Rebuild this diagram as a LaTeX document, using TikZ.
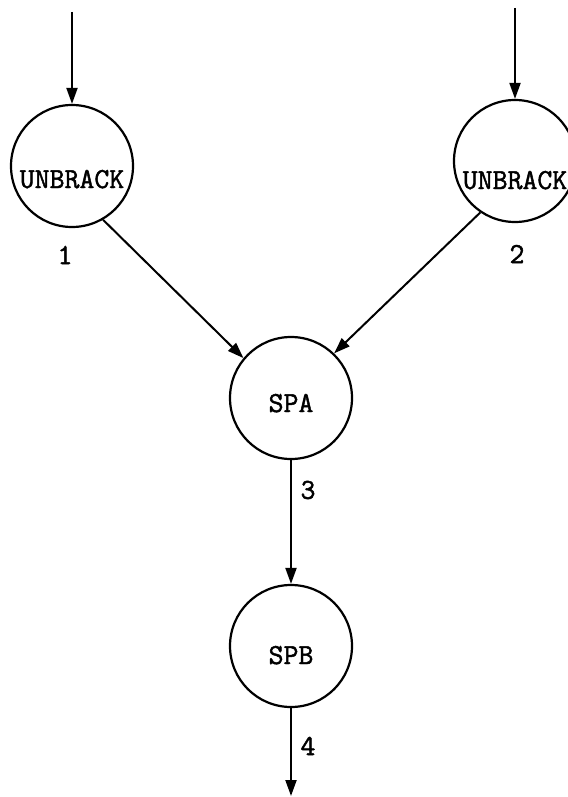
\documentclass[tikz,border=0pt]{standalone}
\usepackage{fontspec}
\setmonofont[FakeBold=1.6]{Latin Modern Mono}
\usetikzlibrary{arrows.meta}
\begin{document}
\begin{tikzpicture}[x=1pt,y=-1pt,
  proc/.style={draw,circle,line width=2.2pt,minimum size=122pt,inner sep=0pt,
    font=\fontsize{29}{29}\selectfont\ttfamily,text depth=0pt},
  lbl/.style={inner sep=0pt,font=\fontsize{29}{29}\selectfont\ttfamily},
  flow/.style={line width=2pt,-{Triangle[length=16pt,width=11pt]}}]
\useasboundingbox (0,0) rectangle (567,797);
\node[proc,text height=44pt] (u1) at (72,166) {UNBRACK};
\node[proc,text height=56pt] (u2) at (515,161) {UNBRACK};
\node[proc,text height=28pt] (spa) at (291,398) {SPA};
\node[proc,text height=36pt] (spb) at (291,646) {SPB};
\coordinate (in1) at (72,12);
\coordinate (in2) at (515,8);
\coordinate (out) at (291,796);
\node[lbl] (l1) at (65,255) {1};
\node[lbl] (l2) at (517,254) {2};
\node[lbl] (l3) at (308,490) {3};
\node[lbl] (l4) at (308,746) {4};
\draw[flow] (in1) -- (u1.north);
\draw[flow] (in2) -- (u2.north);
\draw[flow] (u1.-60) -- (spa.140);
\draw[flow] (u2.-124) -- (spa.46);
\draw[flow] (spa.south) -- (spb.north);
\draw[flow] (spb.south) -- (out);
\end{tikzpicture}
\end{document}
